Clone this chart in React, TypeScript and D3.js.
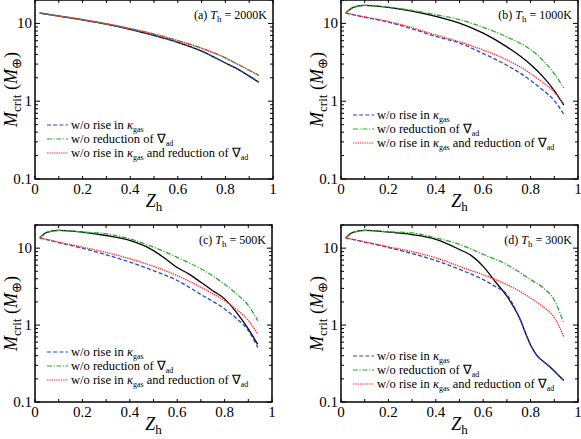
import * as d3 from 'd3';

// --- data (Z_h, M_crit in Earth masses) ---
const yTicks = [0.1, 1, 10];
const xTickLabels = [0, 0.2, 0.4, 0.6, 0.8, 1];

const zA = [0.02, 0.1, 0.2, 0.3, 0.4, 0.5, 0.6, 0.7, 0.8, 0.85, 0.9, 0.94];
const aBlack = [13.6, 12.4, 11.1, 9.8, 8.4, 7.0, 5.7, 4.4, 3.1, 2.6, 2.1, 1.75];
const aBlue = [13.6, 12.4, 11.1, 9.8, 8.4, 7.0, 5.7, 4.4, 3.1, 2.6, 2.12, 1.76];
const aGreen = [13.6, 12.5, 11.2, 9.9, 8.6, 7.3, 6.0, 4.8, 3.6, 3.0, 2.5, 2.15];
const aRed = [13.6, 12.5, 11.2, 9.9, 8.6, 7.3, 6.0, 4.8, 3.6, 3.0, 2.5, 2.15];

const zB = [0.02, 0.05, 0.1, 0.2, 0.3, 0.4, 0.5, 0.6, 0.7, 0.8, 0.85, 0.9, 0.94];
const bBlack = [13.6, 16.0, 17.1, 16.1, 14.4, 12.3, 10.1, 7.5, 5.0, 2.96, 2.1, 1.37, 0.89];
const bGreen = [13.6, 16.0, 17.1, 16.2, 14.7, 12.9, 11.2, 8.9, 6.7, 4.6, 3.4, 2.26, 1.48];
const zB2 = [0.02, 0.1, 0.2, 0.3, 0.4, 0.5, 0.6, 0.7, 0.8, 0.85, 0.9, 0.94];
const bBlue = [13.6, 12.0, 10.4, 8.5, 6.8, 5.6, 4.1, 2.9, 1.85, 1.4, 1.02, 0.68];
const bRed = [13.6, 12.1, 10.6, 8.8, 7.1, 5.8, 4.55, 3.4, 2.27, 1.75, 1.31, 0.92];

const zC = [0.02, 0.05, 0.1, 0.2, 0.3, 0.4, 0.5, 0.55, 0.6, 0.65, 0.7, 0.75, 0.8, 0.85, 0.9, 0.94];
const cBlack = [13.6, 16.0, 17.0, 16.2, 14.6, 12.6, 9.3, 7.3, 5.6, 4.6, 3.6, 2.8, 2.19, 1.46, 0.89, 0.56];
const zC2 = [0.02, 0.05, 0.1, 0.2, 0.3, 0.4, 0.5, 0.6, 0.7, 0.8, 0.85, 0.9, 0.94];
const cGreen = [13.6, 16.0, 17.0, 16.2, 15.4, 13.2, 10.3, 7.6, 5.4, 3.4, 2.55, 1.8, 1.14];
const zC3 = [0.02, 0.1, 0.2, 0.3, 0.4, 0.5, 0.6, 0.7, 0.8, 0.85, 0.9, 0.94];
const cBlue = [13.6, 11.8, 10.0, 8.2, 6.6, 5.1, 3.8, 2.5, 1.62, 1.22, 0.85, 0.51];
const cRed = [13.6, 12.0, 10.3, 8.8, 7.3, 5.8, 4.4, 3.1, 2.07, 1.6, 1.15, 0.76];

const zD = [0.02, 0.05, 0.1, 0.2, 0.3, 0.4, 0.5, 0.55, 0.6, 0.65, 0.7, 0.75, 0.8, 0.82, 0.88, 0.94];
const dBlack = [13.6, 16.0, 17.0, 16.2, 15.0, 13.0, 9.6, 8.0, 5.8, 3.7, 2.37, 1.3, 0.55, 0.43, 0.29, 0.19];
const zD2 = [0.02, 0.1, 0.2, 0.3, 0.4, 0.5, 0.6, 0.65, 0.7, 0.72, 0.75, 0.8, 0.82, 0.88, 0.94];
const dBlue = [13.6, 12.0, 10.2, 8.5, 6.9, 5.3, 3.9, 3.2, 2.5, 2.0, 1.3, 0.55, 0.43, 0.29, 0.19];
const zD3 = [0.02, 0.05, 0.1, 0.2, 0.3, 0.4, 0.5, 0.6, 0.7, 0.8, 0.85, 0.9, 0.94];
const dGreen = [13.6, 16.0, 17.0, 16.3, 15.8, 13.6, 11.2, 8.3, 6.1, 3.9, 3.1, 2.1, 1.06];
const zD4 = [0.02, 0.1, 0.2, 0.3, 0.4, 0.5, 0.6, 0.7, 0.8, 0.85, 0.9, 0.94];
const dRed = [13.6, 12.1, 10.4, 9.0, 7.5, 5.8, 4.5, 3.36, 2.25, 1.75, 1.25, 0.71];

const panelLetters = ['a', 'b', 'c', 'd'];
const panelTemps = ['2000K', '1000K', '500K', '300K'];

const FONT = '"Liberation Serif", "Times New Roman", Times, serif';

const styles = {
  black: { color: '#000', dash: null },
  blue: { color: '#2a45d0', dash: '4,2.2' },
  green: { color: '#2ea82e', dash: '5,1.6,1.2,1.6' },
  red: { color: '#ff2a2a', dash: '1.4,0.9' },
};

type Series = { key: keyof typeof styles; z: number[]; m: number[] };

const panels: { box: number[]; legendY: number; series: Series[] }[] = [
  {
    box: [35, 0, 273, 179], legendY: 125,
    series: [
      { key: 'black', z: zA, m: aBlack }, { key: 'blue', z: zA, m: aBlue },
      { key: 'green', z: zA, m: aGreen }, { key: 'red', z: zA, m: aRed },
    ],
  },
  {
    box: [341, 0, 578, 179], legendY: 115,
    series: [
      { key: 'black', z: zB, m: bBlack }, { key: 'blue', z: zB2, m: bBlue },
      { key: 'green', z: zB, m: bGreen }, { key: 'red', z: zB2, m: bRed },
    ],
  },
  {
    box: [35, 225, 272, 402], legendY: 352,
    series: [
      { key: 'black', z: zC, m: cBlack }, { key: 'blue', z: zC3, m: cBlue },
      { key: 'green', z: zC2, m: cGreen }, { key: 'red', z: zC3, m: cRed },
    ],
  },
  {
    box: [341, 225, 578, 402], legendY: 356,
    series: [
      { key: 'black', z: zD, m: dBlack }, { key: 'blue', z: zD2, m: dBlue },
      { key: 'green', z: zD3, m: dGreen }, { key: 'red', z: zD4, m: dRed },
    ],
  },
];

const legendKeys: (keyof typeof styles)[] = ['blue', 'green', 'red'];

const LegendText = ({ i }: { i: number }) => {
  if (i === 0) {
    return (
      <>
        <tspan>w/o rise in </tspan>
        <tspan fontStyle="italic">κ</tspan>
        <tspan dy={2.5} fontSize={8}>gas</tspan>
      </>
    );
  }
  if (i === 1) {
    return (
      <>
        <tspan>w/o reduction of ∇</tspan>
        <tspan dy={2.5} fontSize={8}>ad</tspan>
      </>
    );
  }
  return (
    <>
      <tspan>w/o rise in </tspan>
      <tspan fontStyle="italic">κ</tspan>
      <tspan dy={2.5} fontSize={8}>gas</tspan>
      <tspan dy={-2.5}>  and reduction of ∇</tspan>
      <tspan dy={2.5} fontSize={8}>ad</tspan>
    </>
  );
};

const Panel = ({ idx }: { idx: number }) => {
  const p = panels[idx];
  const [x0, y0, x1, y1] = p.box;
  const x = d3.scaleLinear().domain([0, 1]).range([x0, x1]);
  const y = d3.scaleLog().domain([0.1, 20]).range([y1, y0]);
  const line = d3.line<[number, number]>()
    .x(d => x(d[0]))
    .y(d => y(d[1]))
    .curve(d3.curveMonotoneX);

  const xMinor = d3.range(0, 11).map(i => i / 10);
  const yMinor: number[] = [];
  [0.1, 1, 10].forEach(dec => {
    for (let k = 1; k <= 9; k++) {
      const v = dec * k;
      if (v <= 20) yMinor.push(v);
    }
  });

  const cx = (x0 + x1) / 2;
  const cy = (y0 + y1) / 2;

  return (
    <g>
      {/* curves */}
      <g clipPath={`url(#clip${idx})`}>
        {p.series.map(s => (
          <path
            key={s.key}
            d={line(s.z.map((z, i) => [z, s.m[i]] as [number, number])) || ''}
            fill="none"
            stroke={styles[s.key].color}
            strokeWidth={1.3}
            strokeDasharray={styles[s.key].dash || undefined}
          />
        ))}
      </g>

      {/* ticks */}
      {xMinor.map(v => (
        <g key={'xt' + v}>
          <line x1={x(v)} x2={x(v)} y1={y1} y2={y1 - 3} stroke="#000" strokeWidth={1} />
          <line x1={x(v)} x2={x(v)} y1={y0} y2={y0 + 3} stroke="#000" strokeWidth={1} />
        </g>
      ))}
      {yMinor.map(v => {
        const major = yTicks.includes(v);
        const len = major ? 5 : 3;
        return (
          <g key={'yt' + v}>
            <line x1={x0} x2={x0 + len} y1={y(v)} y2={y(v)} stroke="#000" strokeWidth={1} />
            <line x1={x1} x2={x1 - len} y1={y(v)} y2={y(v)} stroke="#000" strokeWidth={1} />
          </g>
        );
      })}

      {/* frame */}
      <rect x={x0} y={y0} width={x1 - x0} height={y1 - y0} fill="none" stroke="#000" strokeWidth={1.5} />

      {/* tick labels */}
      {xTickLabels.map(v => (
        <text key={'xl' + v} x={x(v)} y={y1 + 15} textAnchor="middle" fontSize={15}>
          {v === 0 || v === 1 ? String(v) : v.toFixed(1)}
        </text>
      ))}
      {yTicks.map(v => (
        <text key={'yl' + v} x={x0 - 3} y={y(v) + 5} textAnchor="end" fontSize={15}>
          {String(v)}
        </text>
      ))}

      {/* axis titles */}
      <text x={cx} y={y1 + 28} textAnchor="middle" fontSize={18}>
        <tspan fontStyle="italic">Z</tspan>
        <tspan dy={4} fontSize={13}>h</tspan>
      </text>
      <text
        transform={`translate(${x0 - 18},${cy}) rotate(-90)`}
        textAnchor="middle"
        fontSize={18}
      >
        <tspan fontStyle="italic">M</tspan>
        <tspan dy={4} fontSize={13}>crit</tspan>
        <tspan dy={-4}> (</tspan>
        <tspan fontStyle="italic">M</tspan>
        <tspan dy={4} fontSize={13}>⊕</tspan>
        <tspan dy={-4}>)</tspan>
      </text>

      {/* panel title */}
      <text x={x1 - 6} y={y0 + 19} textAnchor="end" fontSize={12}>
        <tspan>({panelLetters[idx]}) </tspan>
        <tspan fontStyle="italic">T</tspan>
        <tspan dy={3} fontSize={9}>h</tspan>
        <tspan dy={-3}> = {panelTemps[idx]}</tspan>
      </text>

      {/* legend */}
      {legendKeys.map((k, i) => {
        const ly = p.legendY + i * 14;
        return (
          <g key={'lg' + k}>
            <line
              x1={x0 + 12}
              x2={x0 + 33}
              y1={ly}
              y2={ly}
              stroke={styles[k].color}
              strokeWidth={1.2}
              strokeDasharray={styles[k].dash || undefined}
            />
            <text x={x0 + 36} y={ly + 4} fontSize={12.5}>
              <LegendText i={i} />
            </text>
          </g>
        );
      })}
    </g>
  );
};

export default function App() {
  return (
    <svg
      width={581}
      height={439}
      style={{ display: 'block', position: 'absolute', left: 0, top: 0, background: '#fff', fontFamily: FONT }}
    >
      <defs>
        {panels.map((p, i) => (
          <clipPath id={`clip${i}`} key={i}>
            <rect x={p.box[0]} y={p.box[1]} width={p.box[2] - p.box[0]} height={p.box[3] - p.box[1]} />
          </clipPath>
        ))}
      </defs>
      {panels.map((_, i) => (
        <Panel key={i} idx={i} />
      ))}
    </svg>
  );
}
